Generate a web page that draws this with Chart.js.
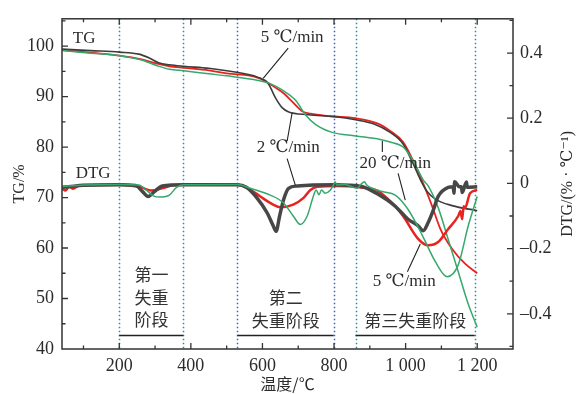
<!DOCTYPE html>
<html>
<head>
<meta charset="utf-8">
<script src="https://cdn.jsdelivr.net/npm/chart.js@4.4.0/dist/chart.umd.min.js"></script>
<style>
  html, body { margin: 0; padding: 0; background: #fff; }
  #wrap { width: 579px; height: 394px; }
</style>
</head>
<body>
<div id="wrap"><canvas id="tgChart"></canvas></div>
<script>
// axis ticks
var tempTicks = [200, 400, 600, 800, 1000, 1200];
var tgTicks = [40, 50, 60, 70, 80, 90, 100];
var dtgTicks = [-0.4, -0.2, 0, 0.2, 0.4];

// TG, 2 C/min (dark grey)
var tgTemp2 = [40, 120, 200, 255, 285, 310, 340, 380, 450, 500, 588, 616, 636, 655, 672, 728, 803, 860, 910, 957, 993, 1021, 1045, 1060, 1083, 1130, 1200];
var tg2 = [99.4, 99.1, 98.8, 98.4, 97.6, 96.7, 96.3, 96.0, 95.6, 95.1, 93.8, 92.6, 89.8, 87.8, 87.0, 86.4, 86.0, 85.4, 84.6, 82.9, 80.6, 76.7, 73.0, 71.2, 69.7, 68.4, 67.4];

// TG, 5 C/min (red)
var tgTemp5 = [40, 120, 200, 260, 306, 340, 380, 450, 500, 588, 636, 660, 683, 711, 734, 790, 860, 921, 957, 993, 1021, 1049, 1074, 1097, 1130, 1166, 1200];
var tg5 = [99.2, 98.7, 98.1, 97.4, 96.5, 96.0, 95.7, 95.2, 94.6, 93.7, 91.8, 90.6, 89.0, 87.1, 86.6, 86.1, 85.7, 84.7, 83.2, 81.0, 77.3, 72.8, 68.3, 63.8, 59.8, 56.9, 55.0];

// TG, 20 C/min (green)
var tgTemp20 = [40, 120, 200, 260, 306, 340, 380, 450, 500, 588, 620, 655, 692, 720, 748, 795, 860, 929, 957, 993, 1021, 1049, 1063, 1091, 1119, 1147, 1175, 1200];
var tg20 = [99.1, 98.6, 98.1, 97.3, 96.1, 95.4, 95.1, 94.5, 94.1, 93.2, 92.6, 91.3, 89.3, 86.4, 84.5, 82.9, 82.2, 81.5, 81.0, 80.0, 77.3, 73.5, 72.3, 68.0, 61.7, 55.3, 48.9, 44.3];

// DTG, 2 C/min
var dtgTemp2 = [40, 60, 100, 200, 245, 265, 281, 298, 320, 380, 530, 555, 585, 613, 630, 638, 648, 659, 673, 697, 800, 880, 901, 948, 971, 1007, 1035, 1049, 1063, 1078, 1091, 1119, 1133, 1135, 1137, 1150, 1156, 1158, 1170, 1172, 1200];
var dtg2 = [-0.012, -0.01, -0.006, -0.004, -0.006, -0.025, -0.04, -0.025, -0.008, -0.004, -0.004, -0.012, -0.045, -0.09, -0.13, -0.147, -0.1, -0.05, -0.015, -0.008, -0.004, -0.01, -0.02, -0.05, -0.07, -0.11, -0.13, -0.145, -0.12, -0.08, -0.04, -0.012, -0.01, -0.03, 0.005, -0.01, -0.01, -0.028, 0.004, -0.012, -0.01];

// DTG, 5 C/min
var dtgTemp5 = [40, 50, 60, 70, 90, 200, 260, 290, 320, 350, 380, 530, 560, 594, 630, 650, 686, 714, 734, 753, 809, 870, 921, 948, 971, 993, 1035, 1063, 1091, 1119, 1147, 1153, 1158, 1162, 1166, 1180, 1200];
var dtg5 = [-0.015, -0.022, -0.008, -0.016, -0.006, -0.004, -0.012, -0.022, -0.015, -0.006, -0.004, -0.004, -0.015, -0.04, -0.065, -0.073, -0.065, -0.045, -0.02, -0.01, -0.008, -0.012, -0.022, -0.045, -0.07, -0.1, -0.17, -0.19, -0.18, -0.14, -0.1, -0.085, -0.11, -0.07, -0.075, -0.03, -0.02];

// DTG, 20 C/min
var dtgTemp20 = [40, 100, 200, 255, 275, 295, 315, 340, 360, 380, 530, 566, 622, 659, 686, 706, 725, 742, 750, 758, 765, 775, 790, 798, 803, 808, 830, 865, 875, 885, 890, 901, 935, 971, 1007, 1047, 1083, 1116, 1147, 1175, 1200];
var dtg20 = [-0.01, -0.005, -0.003, -0.005, -0.02, -0.038, -0.042, -0.036, -0.012, -0.004, -0.003, -0.015, -0.036, -0.06, -0.1, -0.126, -0.1, -0.04, -0.02, -0.035, -0.02, -0.03, -0.02, -0.006, 0.005, -0.005, -0.003, -0.015, -0.003, 0.005, -0.003, -0.012, -0.025, -0.036, -0.08, -0.16, -0.24, -0.286, -0.25, -0.13, -0.04];

// weight-loss stages (start, end)
var stageRanges = [[200, 379], [530, 799], [860, 1193]];

function pts(xs, ys) {
    return xs.map(function(x, i) { return { x: x, y: ys[i] }; });
}

var serif = '"Liberation Serif", "DejaVu Serif", "Noto Sans CJK SC", serif';
var cjk = '"Noto Sans CJK SC", sans-serif';
var ink = '#2b2b2b';

var decor = {
    id: 'decor',
    beforeDatasetsDraw: function(chart) {
        var ctx = chart.ctx, a = chart.chartArea, xs = chart.scales.x;
        var edgeColors = ['#2a8c98', '#2a8c98', '#3b62c6', '#3b62c6', '#2a8c98', '#2a8c98'];
        var edges = [];
        stageRanges.forEach(function(r) { edges.push(r[0], r[1]); });
        ctx.save();
        ctx.lineWidth = 1.5;
        ctx.setLineDash([1.5, 2.5]);
        edges.forEach(function(v, i) {
            var px = Math.round(xs.getPixelForValue(v)) + 0.5;
            ctx.strokeStyle = edgeColors[i];
            ctx.beginPath();
            ctx.moveTo(px, a.top);
            ctx.lineTo(px, a.bottom);
            ctx.stroke();
        });
        ctx.restore();
    },
    afterDatasetsDraw: function(chart) {
        var ctx = chart.ctx, a = chart.chartArea;
        var xs = chart.scales.x, ys = chart.scales.y, ds = chart.scales.dtg;
        function X(v) { return xs.getPixelForValue(v); }
        function Y(v) { return ys.getPixelForValue(v); }
        ctx.save();

        // frame
        ctx.strokeStyle = '#333';
        ctx.lineWidth = 1.5;
        ctx.strokeRect(a.left, a.top, a.right - a.left, a.bottom - a.top);

        // inward tick marks
        ctx.lineWidth = 1.3;
        ctx.beginPath();
        for (var t = 100; t <= 1200; t += 100) {
            var len = (t % 200 === 0) ? 6 : 3.5;
            var px = X(t);
            ctx.moveTo(px, a.bottom); ctx.lineTo(px, a.bottom - len);
            ctx.moveTo(px, a.top); ctx.lineTo(px, a.top + len);
        }
        for (var v = 45; v <= 105; v += 5) {
            var l2 = (v % 10 === 0) ? 6 : 3.5;
            ctx.moveTo(a.left, Y(v)); ctx.lineTo(a.left + l2, Y(v));
        }
        for (var k = -5; k <= 5; k++) {
            var l3 = (k % 2 === 0) ? 6 : 3.5;
            var py = ds.getPixelForValue(k / 10);
            ctx.moveTo(a.right, py); ctx.lineTo(a.right - l3, py);
        }
        ctx.stroke();

        // right axis title, reading bottom to top
        ctx.fillStyle = ink;
        ctx.font = '16px ' + serif;
        ctx.textAlign = 'center';
        ctx.textBaseline = 'middle';
        ctx.save();
        ctx.translate(568, (a.top + a.bottom) / 2);
        ctx.rotate(-Math.PI / 2);
        ctx.fillText('DTG/(% · ℃⁻¹)', 0, 0);
        ctx.restore();

        // curve labels
        ctx.font = '17px ' + serif;
        ctx.fillText('TG', X(102), Y(101.4));
        ctx.fillText('DTG', X(127), Y(74.8));
        ctx.fillText('5 ℃/min', X(683), Y(101.7));
        ctx.fillText('2 ℃/min', X(672), Y(80.0));
        ctx.fillText('20 ℃/min', X(971), Y(76.7));
        ctx.fillText('5 ℃/min', X(996), Y(53.4));

        // leader lines
        ctx.strokeStyle = '#222';
        ctx.lineWidth = 1.1;
        var leaders = [
            [672, 99.6, 602, 93.6],
            [683, 86.8, 669, 81.2],
            [669, 77.7, 692, 72.4],
            [935, 81.2, 935, 79.0],
            [979, 74.8, 999, 69.5],
            [1005, 55.3, 1041, 60.8]
        ];
        ctx.beginPath();
        leaders.forEach(function(s) {
            ctx.moveTo(X(s[0]), Y(s[1]));
            ctx.lineTo(X(s[2]), Y(s[3]));
        });
        ctx.stroke();

        // stage labels and bars
        ctx.font = '17px ' + cjk;
        ctx.fillStyle = '#333';
        ctx.fillText('第一', X(290), Y(54.8));
        ctx.fillText('失重', X(290), Y(50.1));
        ctx.fillText('阶段', X(290), Y(45.9));
        ctx.fillText('第二', X(665), Y(50.1));
        ctx.fillText('失重阶段', X(665), Y(45.7));
        ctx.fillText('第三失重阶段', X(1027), Y(45.6));
        ctx.strokeStyle = '#222';
        ctx.lineWidth = 1.3;
        ctx.beginPath();
        stageRanges.forEach(function(r) {
            var py = Math.round(Y(42.7)) + 0.5;
            ctx.moveTo(X(r[0]), py);
            ctx.lineTo(X(r[1]), py);
        });
        ctx.stroke();
        ctx.restore();
    }
};

function fixTicks(list) {
    return function(scale) {
        scale.ticks = list.map(function(v) { return { value: v }; });
    };
}

var ctx = document.getElementById('tgChart').getContext('2d');
var tgChart = new Chart(ctx, {
    type: 'line',
    data: {
        datasets: [{
            label: 'DTG 20',
            data: pts(dtgTemp20, dtg20),
            yAxisID: 'dtg',
            borderColor: '#35a96c',
            borderWidth: 1.5
        }, {
            label: 'DTG 2',
            data: pts(dtgTemp2, dtg2),
            yAxisID: 'dtg',
            borderColor: '#474747',
            borderWidth: 3.5
        }, {
            label: 'DTG 5',
            data: pts(dtgTemp5, dtg5),
            yAxisID: 'dtg',
            borderColor: '#e8231f',
            borderWidth: 2.5
        }, {
            label: 'TG 20',
            data: pts(tgTemp20, tg20),
            yAxisID: 'y',
            borderColor: '#35a96c',
            borderWidth: 1.5
        }, {
            label: 'TG 2',
            data: pts(tgTemp2, tg2),
            yAxisID: 'y',
            borderColor: '#3c3c3c',
            borderWidth: 1.6
        }, {
            label: 'TG 5',
            data: pts(tgTemp5, tg5),
            yAxisID: 'y',
            borderColor: '#e8231f',
            borderWidth: 1.8
        }]
    },
    options: {
        responsive: true,
        maintainAspectRatio: false,
        animation: false,
        elements: {
            point: { radius: 0 },
            line: { cubicInterpolationMode: 'monotone', fill: false }
        },
        layout: { padding: { top: 12, left: 0, right: 0, bottom: 0 } },
        plugins: {
            legend: { display: false },
            title: { display: false },
            tooltip: { enabled: false }
        },
        scales: {
            x: {
                type: 'linear',
                position: 'bottom',
                min: 40,
                max: 1300,
                afterBuildTicks: fixTicks(tempTicks),
                afterFit: function(s) { s.height = 45; },
                grid: { display: false, drawTicks: false },
                border: { display: false },
                ticks: {
                    color: ink,
                    padding: 6,
                    maxRotation: 0,
                    autoSkip: false,
                    font: { family: serif, size: 18 },
                    callback: function(v) {
                        return v >= 1000 ? Math.floor(v / 1000) + ' ' + String(v % 1000).padStart(3, '0') : String(v);
                    }
                },
                title: {
                    display: true,
                    text: '温度/℃',
                    color: ink,
                    font: { family: cjk, size: 16 },
                    padding: { top: 0, bottom: 0 }
                }
            },
            y: {
                position: 'left',
                min: 40,
                max: 105.4,
                afterBuildTicks: fixTicks(tgTicks),
                afterFit: function(s) { s.width = 62; },
                grid: { display: false, drawTicks: false },
                border: { display: false },
                ticks: {
                    color: ink,
                    padding: 8,
                    autoSkip: false,
                    font: { family: serif, size: 18 }
                },
                title: {
                    display: true,
                    text: 'TG/%',
                    color: ink,
                    font: { family: serif, size: 16 },
                    padding: { top: 10, bottom: 0 }
                }
            },
            dtg: {
                position: 'right',
                min: -0.508,
                max: 0.505,
                afterBuildTicks: fixTicks(dtgTicks),
                afterFit: function(s) { s.width = 66; },
                grid: { display: false, drawTicks: false },
                border: { display: false },
                ticks: {
                    color: ink,
                    padding: 7,
                    autoSkip: false,
                    font: { family: serif, size: 18 },
                    callback: function(v) {
                        return v < 0 ? '\u2013' + String(-v) : String(v);
                    }
                }
            }
        }
    },
    plugins: [decor]
});
</script>
</body>
</html>
